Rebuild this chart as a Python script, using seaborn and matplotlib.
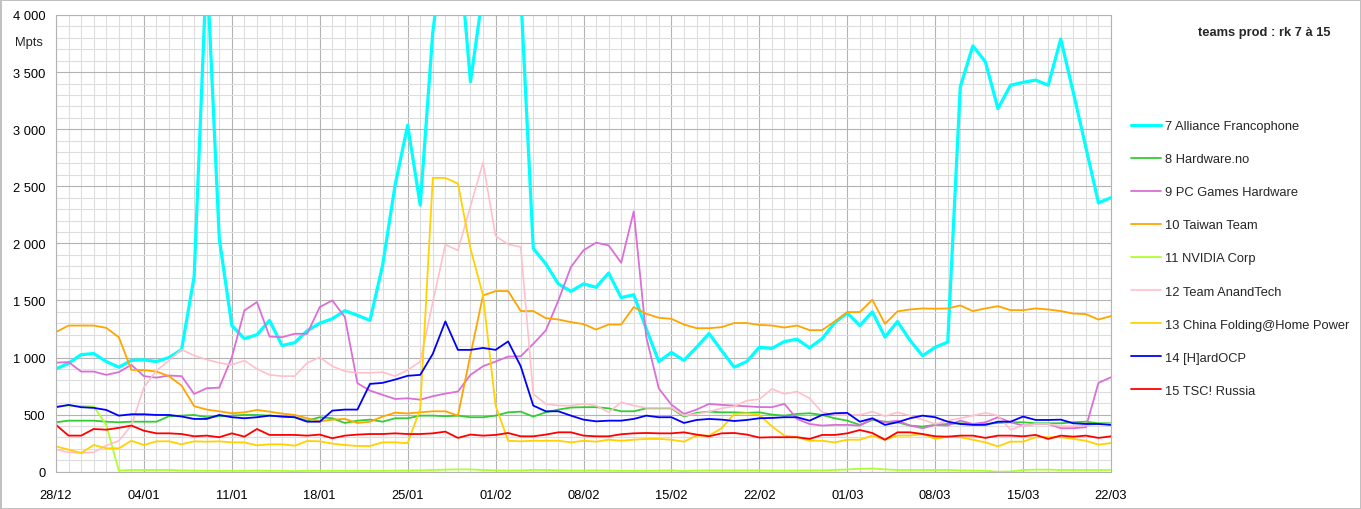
import pandas as pd
import seaborn as sns
import matplotlib.pyplot as plt
import matplotlib.dates as mdates
from matplotlib.ticker import MultipleLocator, FuncFormatter

# jours du 28/12 au 22/03
dates = pd.date_range("2008-12-28", "2009-03-22", freq="D")

teams = ["7 Alliance Francophone", "8 Hardware.no", "9 PC Games Hardware",
         "10 Taiwan Team", "11 NVIDIA Corp", "12 Team AnandTech",
         "13 China Folding@Home Power", "14 [H]ardOCP", "15 TSC! Russia"]

alliance = [900, 950, 1025, 1035, 965, 915, 975, 980, 965, 1000, 1070, 1710, 4450, 2040, 1280,
            1165, 1200, 1325, 1105, 1130, 1235, 1300, 1340, 1410, 1370, 1325, 1805, 2510, 3035,
            2335, 3850, 4700, 4700, 3415, 4200, 4600, 4500, 4200, 1955, 1820, 1645, 1580, 1645,
            1615, 1740, 1525, 1550, 1250, 965, 1045, 975, 1090, 1210, 1060, 915, 965, 1090, 1080,
            1140, 1160, 1085, 1165, 1305, 1390, 1280, 1400, 1180, 1315, 1150, 1015, 1090, 1135,
            3370, 3730, 3590, 3180, 3385, 3410, 3430, 3385, 3790, 3320, 2840, 2355, 2400]
hardware_no = [433, 447, 447, 447, 438, 433, 438, 438, 438, 486, 491, 497, 477, 486, 491, 497,
               497, 491, 483, 477, 447, 477, 468, 427, 447, 456, 438, 468, 468, 491, 491, 486,
               491, 477, 477, 491, 520, 526, 483, 520, 544, 562, 565, 565, 555, 529, 529, 555,
               555, 555, 483, 515, 526, 520, 520, 515, 520, 500, 491, 506, 512, 497, 468, 447,
               410, 453, 438, 433, 404, 395, 410, 418, 424, 418, 418, 427, 433, 433, 424, 424,
               424, 433, 438, 424, 424]
pcgh = [955, 960, 877, 877, 848, 872, 936, 837, 824, 842, 837, 681, 731, 736, 1002, 1412, 1486,
        1184, 1178, 1208, 1208, 1442, 1500, 1354, 775, 710, 673, 637, 643, 631, 661, 684, 702,
        848, 924, 965, 1008, 1011, 1120, 1237, 1500, 1793, 1939, 2006, 1982, 1830, 2280, 1178,
        728, 587, 506, 544, 594, 585, 579, 573, 566, 565, 594, 462, 418, 404, 410, 410, 404,
        462, 433, 447, 404, 381, 410, 404, 447, 418, 433, 477, 433, 404, 418, 418, 381, 381,
        389, 778, 827]
taiwan = [1223, 1280, 1280, 1280, 1260, 1178, 892, 890, 877, 837, 754, 574, 544, 529, 512, 520,
          541, 526, 509, 497, 468, 441, 456, 462, 427, 438, 483, 517, 510, 520, 529, 529, 491,
          1024, 1544, 1582, 1582, 1407, 1407, 1345, 1333, 1310, 1293, 1245, 1289, 1289, 1442,
          1383, 1348, 1339, 1289, 1257, 1257, 1266, 1302, 1302, 1286, 1280, 1263, 1280, 1240,
          1240, 1316, 1398, 1398, 1506, 1295, 1404, 1421, 1430, 1427, 1430, 1456, 1407, 1430,
          1450, 1415, 1415, 1430, 1421, 1407, 1385, 1380, 1333, 1363]
nvidia = [575, 578, 575, 572, 410, 10, 15, 15, 15, 15, 12, 10, 8, 8, 8, 8, 10, 8, 8, 5, 8, 8, 8,
          8, 8, 8, 8, 10, 10, 12, 15, 18, 20, 20, 15, 12, 10, 12, 15, 15, 12, 10, 10, 12, 10, 8,
          8, 8, 10, 12, 5, 10, 12, 12, 12, 12, 12, 10, 10, 10, 12, 12, 15, 20, 25, 28, 20, 15,
          15, 15, 15, 15, 12, 10, 8, 0, 2, 15, 18, 18, 15, 15, 15, 15, 15]
anandtech = [195, 170, 164, 170, 228, 271, 404, 740, 886, 973, 1070, 1017, 982, 953, 936, 973,
             900, 848, 837, 837, 953, 1002, 924, 880, 866, 866, 872, 837, 890, 965, 1486, 1988,
             1939, 2325, 2708, 2065, 1991, 1968, 681, 594, 579, 579, 594, 579, 520, 608, 579,
             559, 559, 559, 491, 506, 526, 555, 573, 623, 634, 725, 681, 702, 643, 520, 497, 497,
             497, 526, 486, 520, 491, 456, 418, 447, 468, 491, 515, 491, 368, 404, 418, 418, 398,
             398, 404, 418, 418]
china = [222, 193, 164, 234, 205, 205, 271, 234, 266, 266, 240, 266, 263, 266, 257, 257, 231,
         240, 240, 228, 269, 266, 246, 234, 225, 225, 257, 257, 250, 549, 2573, 2573, 2524, 1954,
         1544, 579, 271, 266, 271, 271, 271, 257, 271, 263, 280, 271, 280, 287, 287, 280, 263,
         316, 316, 381, 506, 512, 498, 397, 316, 302, 271, 271, 257, 280, 280, 316, 280, 316,
         316, 330, 287, 307, 302, 280, 257, 222, 263, 263, 302, 302, 302, 287, 271, 237, 251]
hardocp = [565, 585, 565, 559, 541, 491, 503, 503, 497, 497, 483, 462, 462, 497, 477, 468, 477,
           491, 483, 477, 438, 438, 535, 544, 544, 769, 778, 807, 840, 848, 1032, 1316, 1067,
           1067, 1084, 1067, 1141, 924, 579, 529, 529, 491, 456, 441, 447, 447, 462, 491, 477,
           477, 427, 453, 462, 456, 444, 453, 468, 471, 477, 477, 447, 497, 512, 515, 438, 468,
           410, 433, 468, 491, 477, 438, 418, 410, 410, 438, 438, 483, 453, 453, 456, 424, 418,
           418, 410]
tsc = [410, 316, 316, 374, 368, 384, 404, 359, 336, 336, 330, 310, 316, 302, 336, 307, 374, 322,
       322, 322, 316, 325, 293, 316, 325, 330, 330, 336, 330, 330, 336, 351, 296, 325, 316, 322,
       339, 310, 310, 325, 345, 345, 316, 310, 310, 328, 336, 339, 336, 336, 345, 325, 310, 336,
       339, 325, 299, 302, 302, 302, 287, 322, 322, 336, 365, 339, 280, 345, 345, 330, 310, 307,
       316, 316, 296, 316, 316, 310, 322, 287, 316, 307, 316, 296, 310]

series = [alliance, hardware_no, pcgh, taiwan, nvidia, anandtech, china, hardocp, tsc]
colors = ["#00ffff", "#33cc33", "#da70d6", "#ffa500", "#adff2f", "#ffc0cb", "#ffd200",
          "#0000ff", "#ff0000"]
widths = [2.3, 1.3, 1.3, 1.3, 1.3, 1.2, 1.3, 1.3, 1.3]

sns.set_theme(style="white")
plt.rcParams['font.family'] = ['Liberation Sans', 'DejaVu Sans']

fig = plt.figure(figsize=(13.61, 5.10), dpi=100)
fig.patch.set_edgecolor('#c0c0c0')
fig.patch.set_linewidth(2)
ax = fig.add_axes([56 / 1361, 1 - 472.7 / 510, 1055 / 1361, 456.7 / 510])

for name, vals, c, lw in zip(teams, series, colors, widths):
    sns.lineplot(x=dates, y=vals, ax=ax, color=c, linewidth=lw, label=name)

ax.set_xlim(dates[0], dates[-1])
ax.set_ylim(0, 4000)
ax.xaxis.set_major_locator(mdates.WeekdayLocator(byweekday=mdates.SU))
ax.xaxis.set_minor_locator(mdates.DayLocator())
ax.xaxis.set_major_formatter(mdates.DateFormatter('%d/%m'))
ax.yaxis.set_major_locator(MultipleLocator(500))
ax.yaxis.set_minor_locator(MultipleLocator(100))
ax.yaxis.set_major_formatter(FuncFormatter(lambda v, p: f"{int(v):,}".replace(",", " ")))

ax.set_axisbelow(True)
ax.grid(which='major', color='#b3b3b3', linewidth=0.8)
ax.grid(which='minor', color='#dddddd', linewidth=0.8)
ax.tick_params(which='major', length=4.5, width=0.8, color='#b3b3b3', labelsize=9.3,
               labelcolor='black', pad=3)
ax.tick_params(axis='x', which='major', pad=8)
ax.tick_params(which='minor', length=0)
for s in ax.spines.values():
    s.set_color('#b3b3b3')
    s.set_linewidth(0.8)
ax.set_xlabel('')
ax.set_ylabel('')

ax.legend(loc='upper left', bbox_to_anchor=(1131 / 1361, 1 - 121 / 510),
          bbox_transform=fig.transFigure, frameon=False, fontsize=9.3,
          handlelength=2.3, handletextpad=0.3, labelspacing=1.63,
          borderpad=0, borderaxespad=0)

fig.text(1264 / 1361, 1 - 33 / 510, 'teams prod : rk 7 à 15', ha='center', va='center',
         fontsize=9.3, fontweight='bold')
fig.text(15 / 1361, 1 - 43 / 510, 'Mpts', ha='left', va='center', fontsize=9.3)

plt.savefig('out.png', dpi=100)
plt.close()
